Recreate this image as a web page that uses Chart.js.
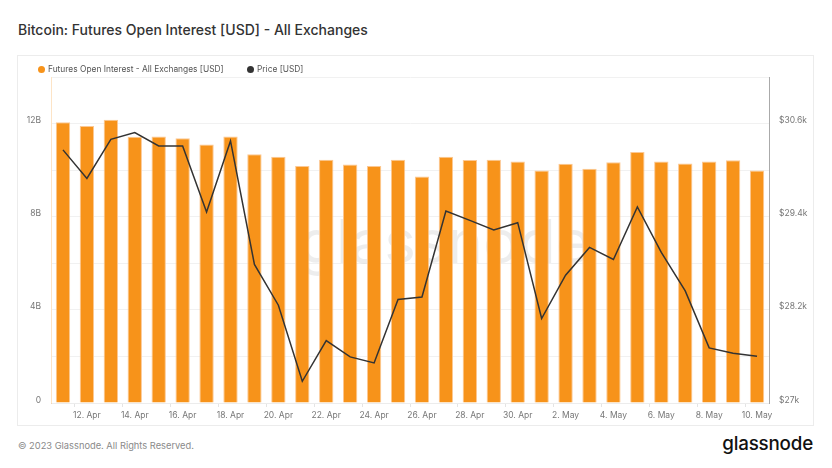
<!DOCTYPE html>
<html>
<head>
<meta charset="utf-8">
<script src="https://cdn.jsdelivr.net/npm/chart.js@4.4.0/dist/chart.umd.min.js"></script>
<style>
  html, body { margin: 0; padding: 0; background: #fff; }
  body { width: 832px; height: 468px; position: relative; overflow: hidden; font-family: Inter, "Noto Sans", sans-serif; }
  #title { position: absolute; left: 18px; top: 21px; font-size: 14px; font-weight: 500; color: #333; white-space: nowrap; }
  #box { position: absolute; left: 17px; top: 55px; width: 795px; height: 369px; border: 1px solid #ececec; }
  #chartwrap { position: absolute; left: 0; top: 0; width: 795px; height: 369px; }
  #legend { position: absolute; left: 20px; top: 8px; font-size: 8.4px; color: #555; white-space: nowrap; }
  #legend span.item { display: inline-flex; align-items: center; margin-right: 21px; }
  #legend span.dot { display: inline-block; width: 7px; height: 7px; border-radius: 50%; margin-right: 3px; }
  #footer { position: absolute; left: 18px; top: 440px; font-size: 9.3px; color: #8a8a8a; white-space: nowrap; }
  #logo { position: absolute; right: 19px; top: 432px; font-size: 18.8px; font-weight: 500; color: #111; letter-spacing: -0.2px; white-space: nowrap; }
</style>
</head>
<body>
<div id="title">Bitcoin: Futures Open Interest [USD] - All Exchanges</div>
<div id="box">
  <div id="chartwrap"><canvas id="c" width="795" height="369"></canvas></div>
  <div id="legend">
    <span class="item"><span class="dot" style="background:#F7931A"></span>Futures Open Interest - All Exchanges [USD]</span>
    <span class="item"><span class="dot" style="background:#333"></span>Price [USD]</span>
  </div>
</div>
<div id="footer">© 2023 Glassnode. All Rights Reserved.</div>
<div id="logo">glassnode</div>
<script>
const categories = ["11. Apr","12. Apr","13. Apr","14. Apr","15. Apr","16. Apr","17. Apr","18. Apr","19. Apr","20. Apr",
  "21. Apr","22. Apr","23. Apr","24. Apr","25. Apr","26. Apr","27. Apr","28. Apr","29. Apr","30. Apr",
  "1. May","2. May","3. May","4. May","5. May","6. May","7. May","8. May","9. May","10. May"];
const openInterestB = [12.06, 11.90, 12.16, 11.43, 11.45, 11.37, 11.10, 11.45, 10.68, 10.57,
  10.18, 10.45, 10.24, 10.18, 10.45, 9.73, 10.57, 10.44, 10.45, 10.37,
  9.98, 10.27, 10.06, 10.34, 10.78, 10.37, 10.29, 10.37, 10.42, 9.98];
const priceUSD = [30261, 29894, 30397, 30484, 30312, 30312, 29460, 30376, 28785, 28260,
  27280, 27804, 27594, 27516, 28333, 28365, 29473, 29353, 29228, 29323,
  28088, 28647, 29004, 28849, 29525, 28940, 28445, 27710, 27641, 27602];
const leftTickLabels = ["0", "4B", "8B", "12B"];
const rightTickLabels = ["$27k", "$28.2k", "$29.4k", "$30.6k"];

const watermark = {
  id: 'watermark',
  beforeDatasetsDraw(chart) {
    const {ctx, chartArea} = chart;
    ctx.save();
    ctx.font = '400 60px Inter, "Noto Sans", sans-serif';
    ctx.fillStyle = 'rgba(0,0,0,0.07)';
    ctx.textAlign = 'center';
    ctx.textBaseline = 'middle';
    ctx.fillText('glassnode', (chartArea.left + chartArea.right) / 2 + 35, (chartArea.top + chartArea.bottom) / 2 + 5);
    ctx.restore();
  }
};

const tickFont = { family: 'Inter, "Noto Sans", sans-serif', size: 8.5 };

new Chart(document.getElementById('c'), {
  type: 'bar',
  data: {
    labels: categories,
    datasets: [
      {
        type: 'line',
        label: 'Price [USD]',
        data: priceUSD,
        yAxisID: 'yR',
        borderColor: '#333333',
        borderWidth: 1.5,
        pointRadius: 0,
        tension: 0,
        order: 0
      },
      {
        type: 'bar',
        label: 'Futures Open Interest - All Exchanges [USD]',
        data: openInterestB.map(v => v * 1e9),
        yAxisID: 'yL',
        backgroundColor: '#F7931A',
        borderColor: '#FCC893',
        borderWidth: 1,
        barPercentage: 0.6,
        categoryPercentage: 1.0,
        order: 1
      }
    ]
  },
  options: {
    responsive: false,
    animation: false,
    devicePixelRatio: 1,
    layout: { padding: { top: 21, left: 0, right: 0, bottom: 0 } },
    plugins: { legend: { display: false }, tooltip: { enabled: false } },
    scales: {
      x: {
        offset: true,
        afterFit(s) { s.height = 22; },
        grid: {
          drawOnChartArea: false, drawTicks: true, tickLength: 4,
          color: ctx => (ctx.index % 2 === 1 ? '#e4e4e4' : 'rgba(0,0,0,0)')
        },
        border: { color: '#ececec' },
        ticks: {
          autoSkip: false, maxRotation: 0, padding: 3, color: '#777', font: tickFont,
          callback: (v, i) => (i % 2 === 1 ? categories[i] : '')
        }
      },
      yL: {
        position: 'left',
        min: 0, max: 14e9,
        afterFit(s) { s.width = 33; },
        grid: { color: '#f1f1f1', drawTicks: false },
        border: { color: 'rgba(247,147,26,0.25)' },
        ticks: {
          stepSize: 2e9, autoSkip: false, padding: 10, labelOffset: -3, color: '#777', font: tickFont,
          callback: v => {
            const n = Math.round(v / 1e9);
            return n % 4 === 0 ? leftTickLabels[n / 4] : '';
          }
        }
      },
      yR: {
        position: 'right',
        min: 27000, max: 31200,
        afterFit(s) { s.width = 44; },
        grid: { drawOnChartArea: false, drawTicks: false },
        border: { color: '#aaaaaa' },
        ticks: {
          stepSize: 600, autoSkip: false, padding: 10, labelOffset: -3, color: '#777', font: tickFont,
          callback: v => {
            const k = Math.round((v - 27000) / 600);
            return k % 2 === 0 ? rightTickLabels[k / 2] : '';
          }
        }
      }
    }
  },
  plugins: [watermark]
});
</script>
</body>
</html>
